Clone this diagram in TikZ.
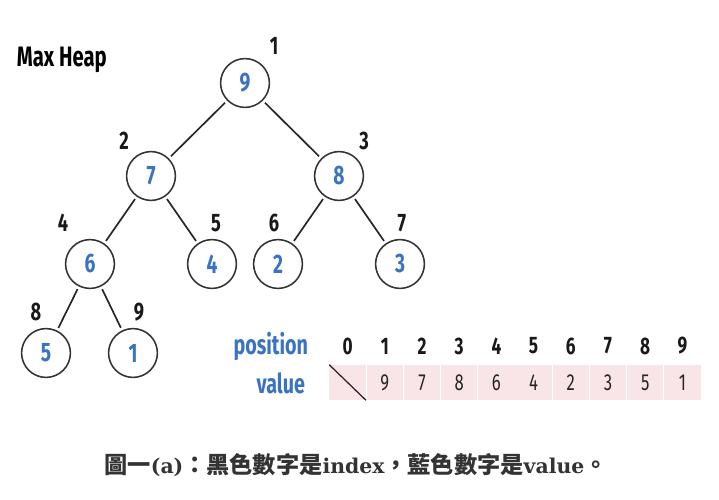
\documentclass[tikz,border=0pt]{standalone}
\usepackage{fontspec}
\usepackage{tikz}
\newfontfamily\dinfont[FakeStretch=0.72]{Fira Sans}
\newfontfamily\cjkfont{Noto Sans CJK TC}
\newfontfamily\capserif{DejaVu Serif}
\definecolor{heapblue}{HTML}{3A73C2}
\definecolor{cellpink}{HTML}{F9E4E8}
\definecolor{capgray}{HTML}{333333}
\tikzset{
  heapnode/.style={circle, draw=black!80, line width=1.1pt, minimum size=1.22cm, inner sep=0pt,
    font=\dinfont\bfseries\fontsize{19}{19}\selectfont, text=heapblue},
  idxlabel/.style={font=\dinfont\bfseries\fontsize{18}{18}\selectfont, text=black!90},
  heapedge/.style={line width=1.2pt, draw=black!85, shorten <=2pt, shorten >=2pt},
  cellbox/.style={fill=cellpink, minimum width=0.905cm, minimum height=0.875cm, inner sep=0pt},
  cellvalue/.style={font=\dinfont\fontsize{16.5}{16.5}\selectfont, text=black!85},
  tablehead/.style={font=\dinfont\bfseries\fontsize{17}{17}\selectfont, text=black!90},
  rowname/.style={anchor=east, font=\dinfont\bfseries\fontsize{19.5}{19.5}\selectfont, text=heapblue},
}
\begin{document}
\begin{tikzpicture}[x=0.025cm, y=-0.025cm]
    \useasboundingbox (0,0) rectangle (719,500);
    % title
    \node[font=\dinfont\bfseries\fontsize{20}{20}\selectfont, anchor=west] (title) at (12,60) {Max Heap};
    % heap nodes
    \node[heapnode] (n1) at (245,83) {9};
    \node[heapnode] (n2) at (151,176) {7};
    \node[heapnode] (n3) at (339,176) {8};
    \node[heapnode] (n4) at (90,264) {6};
    \node[heapnode] (n5) at (212,264) {4};
    \node[heapnode] (n6) at (278,264) {2};
    \node[heapnode] (n7) at (400,264) {3};
    \node[heapnode] (n8) at (46,353) {5};
    \node[heapnode] (n9) at (133,353) {1};
    % index labels
    \node[idxlabel] (i1) at (274,46) {1};
    \node[idxlabel] (i2) at (124,141) {2};
    \node[idxlabel] (i3) at (364,141) {3};
    \node[idxlabel] (i4) at (63,223) {4};
    \node[idxlabel] (i5) at (216,223) {5};
    \node[idxlabel] (i6) at (274,223) {6};
    \node[idxlabel] (i7) at (402,223) {7};
    \node[idxlabel] (i8) at (36,312) {8};
    \node[idxlabel] (i9) at (139,312) {9};
    % edges
    \draw[heapedge] (n1) -- (n2);
    \draw[heapedge] (n1) -- (n3);
    \draw[heapedge] (n2) -- (n4);
    \draw[heapedge] (n2) -- (n5);
    \draw[heapedge] (n3) -- (n6);
    \draw[heapedge] (n3) -- (n7);
    \draw[heapedge] (n4) -- (n8);
    \draw[heapedge] (n4) -- (n9);
    % array
    \node[rowname] (pos) at (313,346) {position};
    \node[rowname] (val) at (310,383) {value};
    \foreach \i in {0,...,9} {
        \node[tablehead] (h\i) at (347.6+37.2*\i,346) {\i};
        \node[cellbox] (c\i) at (347.6+37.2*\i,382.5) {};
    }
    \foreach \i/\v in {1/9,2/7,3/8,4/6,5/4,6/2,7/3,8/5,9/1}
        \node[cellvalue] (v\i) at (c\i) {\v};
    \draw[line width=0.9pt, black!85] (c0.north west) -- (c0.south east);
    % caption
    \node[text=capgray] (cap) at (356,465)
        {{\cjkfont\bfseries\fontsize{16.5}{16.5}\selectfont 圖一}{\capserif\bfseries\fontsize{14.5}{14.5}\selectfont (a)}{\cjkfont\bfseries\fontsize{16.5}{16.5}\selectfont ：黑色數字是}{\capserif\bfseries\fontsize{14.5}{14.5}\selectfont index}{\cjkfont\bfseries\fontsize{16.5}{16.5}\selectfont ，藍色數字是}{\capserif\bfseries\fontsize{14.5}{14.5}\selectfont value}{\cjkfont\bfseries\fontsize{16.5}{16.5}\selectfont 。}};
\end{tikzpicture}
\end{document}
